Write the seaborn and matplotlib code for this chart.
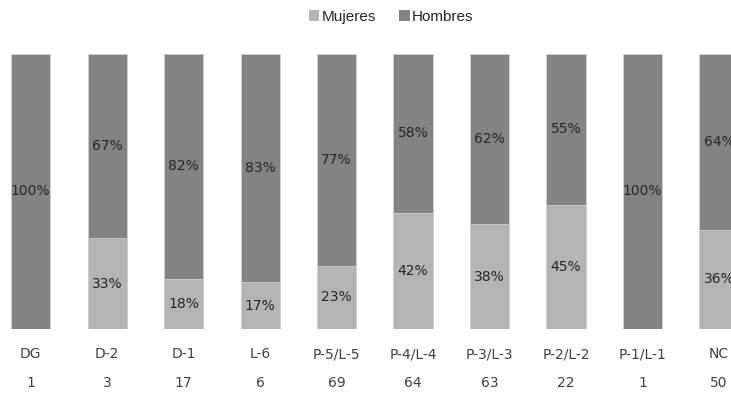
import matplotlib
matplotlib.use("Agg")
import matplotlib.pyplot as plt
import matplotlib.transforms as mtransforms
from matplotlib.patches import Patch
import seaborn as sns
import pandas as pd

# Staff distribution by grade: share of women and men, and head count
categories = ["DG", "D-2", "D-1", "L-6", "P-5/L-5", "P-4/L-4", "P-3/L-3", "P-2/L-2", "P-1/L-1", "NC"]
mujeres = [0, 33, 18, 17, 23, 42, 38, 45, 0, 36]
hombres = [100, 67, 82, 83, 77, 58, 62, 55, 100, 64]
counts = [1, 3, 17, 6, 69, 64, 63, 22, 1, 50]

C_MUJ = "#b4b4b4"
C_HOM = "#838383"

df = pd.DataFrame({"grado": categories, "Mujeres": mujeres, "Hombres": hombres})
df["total"] = df["Mujeres"] + df["Hombres"]

sns.set_style("white")
plt.rcParams["font.family"] = ["DejaVu Sans"]

fig = plt.figure(figsize=(7.31, 4.03), dpi=100)
ax = fig.add_axes([0.0, 0.1836, 1.0, 0.6836])

bw = 0.51
# full stack (men on top), then women over the bottom part
sns.barplot(data=df, x="grado", y="total", color=C_HOM, width=bw, ax=ax,
            saturation=1, edgecolor="#d0d0d0", linewidth=0.6)
sns.barplot(data=df, x="grado", y="Mujeres", color=C_MUJ, width=bw, ax=ax,
            saturation=1, edgecolor="#d0d0d0", linewidth=0.6)

# percentage labels in the middle of each segment
for i, (m, h) in enumerate(zip(mujeres, hombres)):
    if m > 0:
        ax.text(i, m / 2, f"{m}%", ha="center", va="center", fontsize=10, color="#262626")
    if h > 0:
        ax.text(i, m + h / 2, f"{h}%", ha="center", va="center", fontsize=10, color="#262626")

ax.set_ylim(0, 100)
ax.set_xlim(-0.399, 9.157)
ax.set_xlabel("")
ax.set_ylabel("")
ax.set_yticks([])
ax.set_xticks(range(len(categories)))
ax.set_xticklabels(categories, fontsize=10, color="#404040")
ax.tick_params(axis="x", length=0, pad=13)
for s in ax.spines.values():
    s.set_visible(False)

# head count row under the grade names
trans = mtransforms.blended_transform_factory(ax.transData, ax.transAxes)
for i, n in enumerate(counts):
    ax.text(i, -0.195, str(n), transform=trans, ha="center", va="center",
            fontsize=10, color="#404040")

handles = [Patch(facecolor=C_MUJ, edgecolor="none"), Patch(facecolor=C_HOM, edgecolor="none")]
fig.legend(handles, ["Mujeres", "Hombres"], loc="center", bbox_to_anchor=(0.535, 0.958),
           ncol=2, frameon=False, handlelength=0.7, handleheight=0.7,
           handletextpad=0.15, columnspacing=1.5,
           prop={"family": "Liberation Sans", "size": 11})

fig.savefig("out.png", dpi=100)
